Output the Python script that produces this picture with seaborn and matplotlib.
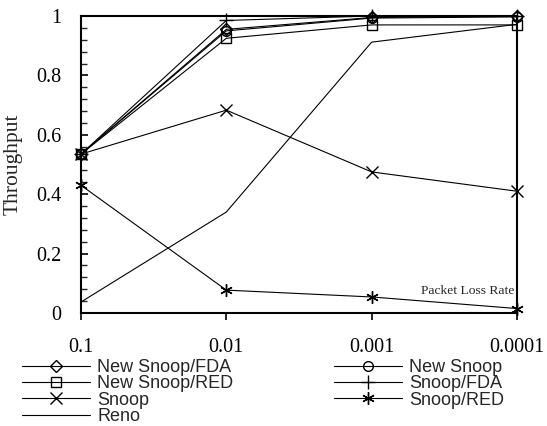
import matplotlib
matplotlib.use("Agg")
import matplotlib.pyplot as plt
import seaborn as sns
import pandas as pd

# Packet loss rates (x) and throughput per scheme (y)
loss_rates = [0.1, 0.01, 0.001, 0.0001]
loss_labels = ["0.1", "0.01", "0.001", "0.0001"]

new_snoop_fda = [0.535, 0.955, 0.995, 1.0]
new_snoop = [0.535, 0.95, 0.993, 0.997]
new_snoop_red = [0.535, 0.925, 0.97, 0.97]
snoop_fda = [0.535, 0.985, 1.0, 1.0]
snoop = [0.535, 0.683, 0.475, 0.41]
snoop_red = [0.43, 0.077, 0.054, 0.015]
reno = [0.037, 0.34, 0.912, 0.972]

series = [
    ("New Snoop/FDA", new_snoop_fda, "D", 6),
    ("New Snoop", new_snoop, "o", 7),
    ("New Snoop/RED", new_snoop_red, "s", 7),
    ("Snoop/FDA", snoop_fda, "+", 10),
    ("Snoop", snoop, "x", 8),
    ("Snoop/RED", snoop_red, (6, 2, 0), 9),
    ("Reno", reno, None, 0),
]

sns.set_theme(style="white")
plt.rcParams["font.family"] = ["Liberation Serif", "DejaVu Serif"]

W, H = 547, 426
fig = plt.figure(figsize=(W / 100, H / 100), dpi=100)
ax = fig.add_axes([81 / W, 1 - 313 / H, (517 - 81) / W, (313 - 16) / H])

handles = {}
for name, vals, mk, ms in series:
    df = pd.DataFrame({"rate": loss_rates, "throughput": vals})
    sns.lineplot(data=df, x="rate", y="throughput", ax=ax, color="black",
                 linewidth=0.8, marker=mk, markersize=ms,
                 markerfacecolor="none", markeredgecolor="black",
                 markeredgewidth=1.0, label=name, clip_on=False,
                 legend=False)
    handles[name] = ax.get_lines()[-1]

ax.set_xscale("log")
ax.set_xlim(0.1, 0.0001)
ax.set_ylim(0, 1)
ax.set_xticks(loss_rates)
ax.set_xticklabels(loss_labels)
ax.xaxis.set_minor_locator(matplotlib.ticker.NullLocator())
ax.set_yticks([0, 0.2, 0.4, 0.6, 0.8, 1.0])
ax.set_yticklabels(["0", "0.2", "0.4", "0.6", "0.8", "1"])
ax.set_yticks([i * 0.04 for i in range(26)], minor=True)

ax.tick_params(axis="x", which="major", direction="out", length=5, width=1.2,
               pad=13, labelsize=14.5, bottom=True, top=False, colors="black")
ax.tick_params(axis="y", which="major", direction="in", length=5, width=1.2,
               pad=14, labelsize=14.5, left=True, right=False, colors="black")
ax.tick_params(axis="y", which="minor", direction="in", length=4, width=1.0,
               left=True, right=False)

for sp in ax.spines.values():
    sp.set_visible(True)
    sp.set_color("black")
    sp.set_linewidth(1.5)

ax.set_xlabel("")
ax.set_ylabel("Throughput", fontsize=15.5)
ax.yaxis.set_label_coords((23 - 81) / 436, 0.5)
ax.text(0.995, 0.074, "Packet Loss Rate", transform=ax.transAxes,
        ha="right", va="center", fontsize=9.7)

order = ["New Snoop/FDA", "New Snoop/RED", "Snoop", "Reno",
         "New Snoop", "Snoop/FDA", "Snoop/RED"]
fig.legend([handles[n] for n in order], order, ncol=2, loc="upper left",
           bbox_to_anchor=(22 / W, 1 - 359 / H), frameon=False,
           borderpad=0, borderaxespad=0, handlelength=3.78,
           handletextpad=0.39, columnspacing=5.55, labelspacing=-0.04,
           prop={"family": "Liberation Sans", "size": 13})

fig.savefig("out.png", dpi=100)
